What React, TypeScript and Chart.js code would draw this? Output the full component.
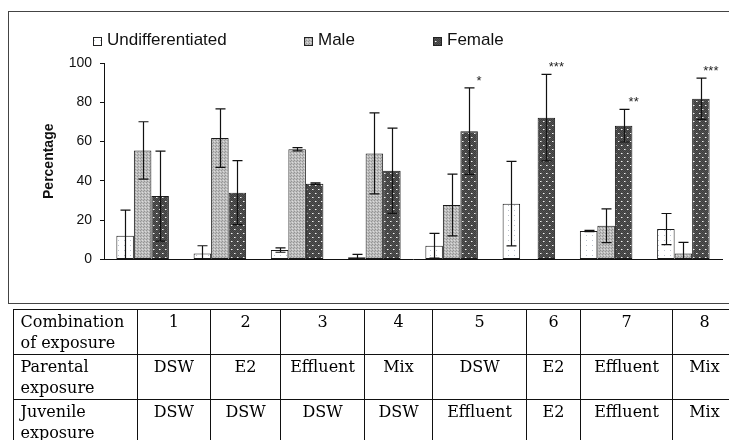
import React, { useEffect, useRef } from "react";
import { Chart, registerables } from "chart.js";
Chart.register(...registerables);

const categories = ["1", "2", "3", "4", "5", "6", "7", "8"];
const seriesNames = ["Undifferentiated", "Male", "Female"];
const undiffValues = [12.1, 3.1, 4.8, 1.1, 7.0, 28.4, 14.5, 15.5];
const undiffErrors = [13, 3.9, 1.1, 1.5, 6.3, 21.5, 0.3, 7.9];
const maleValues = [55.5, 61.8, 56.1, 54.0, 27.7, null, 17.2, 3.1];
const maleErrors = [14.6, 14.9, 0.8, 20.6, 15.7, 0, 8.6, 5.6];
const femaleValues = [32.3, 34.0, 38.6, 45.2, 65.3, 72.2, 68.1, 81.8];
const femaleErrors = [22.9, 16.3, 0.4, 21.7, 22.0, 22.0, 8.3, 10.5];
const significance = ["", "", "", "", "*", "***", "**", "***"];
const yMin = 0;
const yMax = 100;
const yStep = 20;
const yTitle = "Percentage";

const tableRows = [
  ["Combination of exposure", "1", "2", "3", "4", "5", "6", "7", "8"],
  ["Parental exposure", "DSW", "E2", "Effluent", "Mix", "DSW", "E2", "Effluent", "Mix"],
  ["Juvenile exposure", "DSW", "DSW", "DSW", "DSW", "Effluent", "E2", "Effluent", "Mix"],
];
const colWidths = [124, 73.5, 70, 84, 68, 94, 54, 92, 64];

function makePattern(kind: string): CanvasPattern | string {
  const c = document.createElement("canvas");
  const ctx = c.getContext("2d");
  if (!ctx) return "#ccc";
  if (kind === "undiff") {
    c.width = 6; c.height = 5;
    ctx.fillStyle = "#ffffff"; ctx.fillRect(0, 0, 6, 5);
    ctx.fillStyle = "#bcc3cf"; ctx.fillRect(2, 2, 1, 1);
  } else if (kind === "male") {
    c.width = 3; c.height = 3;
    ctx.fillStyle = "#bdbdbd"; ctx.fillRect(0, 0, 3, 3);
    ctx.fillStyle = "#959595"; ctx.fillRect(0, 0, 1, 1); ctx.fillRect(1, 2, 1, 1);
    ctx.fillStyle = "#dcdcdc"; ctx.fillRect(2, 1, 1, 1);
  } else {
    c.width = 6; c.height = 8;
    ctx.fillStyle = "#525252"; ctx.fillRect(0, 0, 6, 8);
    ctx.fillStyle = "#3e3e3e";
    for (let i = 0; i < 6; i++) for (let j = 0; j < 8; j++) if ((i + j) % 2 === 0) ctx.fillRect(i, j, 1, 1);
    ctx.fillStyle = "#f2f2f2"; ctx.fillRect(1, 1, 1, 1); ctx.fillRect(4, 5, 1, 1);
    ctx.fillStyle = "#a0a0a0"; ctx.fillRect(2, 1, 1, 1); ctx.fillRect(5, 5, 1, 1);
  }
  return ctx.createPattern(c, "repeat") || "#ccc";
}

const errorBarPlugin = {
  id: "errorBars",
  afterDatasetsDraw(chart: any) {
    const ctx = chart.ctx;
    const ys = chart.scales.y;
    ctx.save();
    ctx.strokeStyle = "#111";
    ctx.lineWidth = 1.2;
    chart.data.datasets.forEach((ds: any, i: number) => {
      const meta = chart.getDatasetMeta(i);
      meta.data.forEach((bar: any, j: number) => {
        const v = ds.data[j];
        if (v == null) return;
        const e = ds.errors[j];
        const hi = v + e;
        const lo = Math.max(0, v - e);
        const x = Math.round(bar.x) + 0.5;
        const yH = ys.getPixelForValue(hi);
        const yL = ys.getPixelForValue(lo);
        ctx.beginPath();
        ctx.moveTo(x, yL);
        ctx.lineTo(x, yH);
        ctx.moveTo(x - 5, yH);
        ctx.lineTo(x + 5, yH);
        if (v - e > 0) {
          ctx.moveTo(x - 5, yL);
          ctx.lineTo(x + 5, yL);
        }
        ctx.stroke();
      });
    });
    const fi = chart.data.datasets.length - 1;
    const fds: any = chart.data.datasets[fi];
    const fmeta = chart.getDatasetMeta(fi);
    ctx.fillStyle = "#222";
    ctx.font = "13px 'Liberation Sans', Arial, sans-serif";
    ctx.textAlign = "center";
    ctx.textBaseline = "middle";
    fmeta.data.forEach((bar: any, j: number) => {
      const s = significance[j];
      if (!s) return;
      const top = ys.getPixelForValue(fds.data[j] + fds.errors[j]);
      ctx.fillText(s, bar.x + 10, top - 7);
    });
    ctx.restore();
  },
};

const legendPlugin = {
  id: "customLegend",
  afterDraw(chart: any) {
    const ctx = chart.ctx;
    const items = [
      { box: 85, text: 99 },
      { box: 296, text: 310 },
      { box: 425, text: 439 },
    ];
    ctx.save();
    ctx.font = "17px 'Liberation Sans', Arial, sans-serif";
    ctx.textBaseline = "middle";
    ctx.textAlign = "left";
    chart.data.datasets.forEach((ds: any, i: number) => {
      const it = items[i];
      ctx.fillStyle = ds.backgroundColor;
      ctx.fillRect(it.box, 29.5, 8, 8);
      ctx.strokeStyle = "#222";
      ctx.lineWidth = 1;
      ctx.strokeRect(it.box + 0.5, 29.5, 8, 8);
      ctx.fillStyle = "#111";
      ctx.fillText(ds.label, it.text, 32);
    });
    ctx.restore();
  },
};

export default function App() {
  const ref = useRef<HTMLCanvasElement>(null);
  useEffect(() => {
    if (!ref.current) return;
    Chart.defaults.font.family = "'Liberation Sans', Arial, sans-serif";
    const pats = [makePattern("undiff"), makePattern("male"), makePattern("female")];
    const values = [undiffValues, maleValues, femaleValues];
    const errors = [undiffErrors, maleErrors, femaleErrors];
    const chart = new Chart(ref.current, {
      type: "bar",
      data: {
        labels: categories,
        datasets: seriesNames.map((name, i) => ({
          label: name,
          data: values[i],
          errors: errors[i],
          backgroundColor: pats[i],
          borderColor: "#1a1a1a",
          borderWidth: 1,
          borderSkipped: false,
          categoryPercentage: 0.68,
          barPercentage: 1.0,
        })) as any,
      },
      options: {
        responsive: false,
        animation: false,
        layout: { padding: { left: 33, right: 15, top: 55, bottom: 48.5 } },
        plugins: { legend: { display: false }, tooltip: { enabled: false } },
        scales: {
          x: {
            type: "category",
            ticks: { display: false },
            grid: { display: true, drawOnChartArea: false, drawTicks: false },
            border: { display: true, color: "#111", width: 1 },
            afterFit: (s: any) => { s.height = 0; },
          },
          y: {
            min: yMin,
            max: yMax,
            ticks: { stepSize: yStep, padding: 8, color: "#111", font: { size: 14 } },
            grid: { drawOnChartArea: false, tickLength: 4, color: "#111" },
            border: { display: true, color: "#111", width: 1 },
            title: {
              display: true,
              text: yTitle,
              color: "#111",
              font: { size: 14, weight: "bold" },
              padding: 0,
            },
            afterFit: (s: any) => { s.width = 63; },
          },
        },
      },
      plugins: [errorBarPlugin, legendPlugin],
    } as any);
    return () => chart.destroy();
  }, []);

  return (
    <div style={{ position: "relative", width: 729, height: 432, overflow: "hidden" }}>
      <canvas ref={ref} width={729} height={300} style={{ position: "absolute", left: 0, top: 0, width: 729, height: 300 }} />
      <div
        style={{
          position: "absolute", left: 0, top: 3, width: 800, height: 293,
          border: "1.5px solid #444", boxSizing: "border-box", pointerEvents: "none",
        }}
      />
      <table
        style={{
          position: "absolute", left: 4.5, top: 301, borderCollapse: "collapse", tableLayout: "fixed",
          width: colWidths.reduce((a, b) => a + b, 0), fontFamily: "'DejaVu Serif', serif",
          fontSize: 16, lineHeight: "21px", color: "#000",
        }}
      >
        <colgroup>
          {colWidths.map((w, i) => <col key={i} style={{ width: w }} />)}
        </colgroup>
        <tbody>
          {tableRows.map((row, r) => (
            <tr key={r} style={{ height: 44 }}>
              {row.map((cell, c) => (
                <td
                  key={c}
                  style={{
                    border: "1.5px solid #111", verticalAlign: "top",
                    padding: c === 0 ? "1px 4px 1px 7px" : "1px 2px",
                    textAlign: c === 0 ? "left" : "center", overflow: "hidden",
                  }}
                >
                  {cell}
                </td>
              ))}
            </tr>
          ))}
        </tbody>
      </table>
    </div>
  );
}
